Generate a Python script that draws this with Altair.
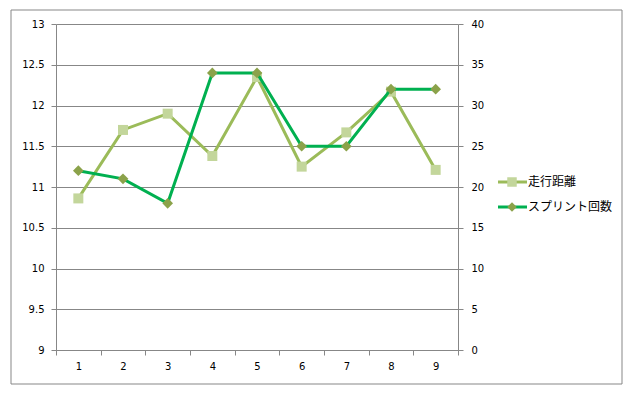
import altair as alt
import pandas as pd

categories = ["1", "2", "3", "4", "5", "6", "7", "8", "9"]
distance = [10.86, 11.70, 11.90, 11.38, 12.35, 11.25, 11.67, 12.17, 11.21]
sprints = [22, 21, 18, 34, 34, 25, 25, 32, 32]
series_names = ["走行距離", "スプリント回数"]

df = pd.DataFrame({"match": categories, "distance": distance, "sprints": sprints})

GRAY = "#878787"
FONT = "DejaVu Sans"
JFONT = "Noto Sans CJK JP"

x_enc = alt.X(
    "match:O",
    sort=categories,
    scale=alt.Scale(type="band", paddingInner=0, paddingOuter=0),
    bandPosition=0.5,
    axis=alt.Axis(
        title=None, labelAngle=0, tickBand="extent", domainColor=GRAY,
        tickColor=GRAY, tickSize=5, labelPadding=6, labelFont=FONT,
        labelFontSize=10, labelColor="#000000", grid=False,
    ),
)

base = alt.Chart(df).encode(x=x_enc)

dist = base.mark_line(
    color="#9BBB59", strokeWidth=3,
    point=alt.OverlayMarkDef(shape="square", size=100, filled=True,
                             color="#C3D69B", opacity=1),
).encode(
    y=alt.Y("distance:Q", scale=alt.Scale(domain=[9, 13], zero=False, nice=False),
            axis=alt.Axis(title=None, values=[9, 9.5, 10, 10.5, 11, 11.5, 12, 12.5, 13],
                          format="~g",
                          grid=True, gridColor=GRAY, domainColor=GRAY, tickColor=GRAY,
                          tickSize=5, labelPadding=7, labelFont=FONT, labelFontSize=10,
                          labelColor="#000000"))
)

spr = base.mark_line(
    color="#00B050", strokeWidth=3,
    point=alt.OverlayMarkDef(shape="diamond", size=115, filled=True,
                             color="#8BA24A", opacity=1),
).encode(
    y=alt.Y("sprints:Q", scale=alt.Scale(domain=[0, 40], nice=False),
            axis=alt.Axis(title=None, orient="right", values=list(range(0, 41, 5)),
                          grid=False, domainColor=GRAY, tickColor=GRAY, tickSize=5,
                          labelPadding=8, labelFont=FONT, labelFontSize=10,
                          labelColor="#000000"))
)

one = pd.DataFrame({"k": [0]})
border = alt.Chart(one).mark_rect(fill=None, stroke=GRAY, strokeWidth=1).encode(
    x=alt.value(-45), x2=alt.value(566), y=alt.value(-14), y2=alt.value(360)
)

item_y = [158, 183]
line_cols = ["#9BBB59", "#00B050"]
mk_cols = ["#C3D69B", "#8BA24A"]
shapes = ["square", "diamond"]
sizes = [90, 90]
legend_layers = []
for i, name in enumerate(series_names):
    ldf = pd.DataFrame({"name": [name]})
    legend_layers.append(
        alt.Chart(ldf).mark_rule(color=line_cols[i], strokeWidth=3).encode(
            x=alt.value(442), x2=alt.value(471), y=alt.value(item_y[i]))
    )
    legend_layers.append(
        alt.Chart(ldf).mark_point(shape=shapes[i], size=sizes[i], filled=True,
                                  color=mk_cols[i], opacity=1).encode(
            x=alt.value(456), y=alt.value(item_y[i]))
    )
    legend_layers.append(
        alt.Chart(ldf).mark_text(align="left", baseline="middle", font=JFONT,
                                 fontSize=12, color="#000000").encode(
            x=alt.value(472), y=alt.value(item_y[i]), text="name:N")
    )

chart = alt.layer(dist, spr, border, *legend_layers).resolve_scale(
    y="independent"
).properties(
    width=402, height=326,
    autosize=alt.AutoSizeParams(type="none"),
    padding={"left": 48, "top": 16, "right": 169, "bottom": 38},
).configure_view(stroke=None)

chart.save("out.html", embed_options={"renderer": "svg", "actions": False})
